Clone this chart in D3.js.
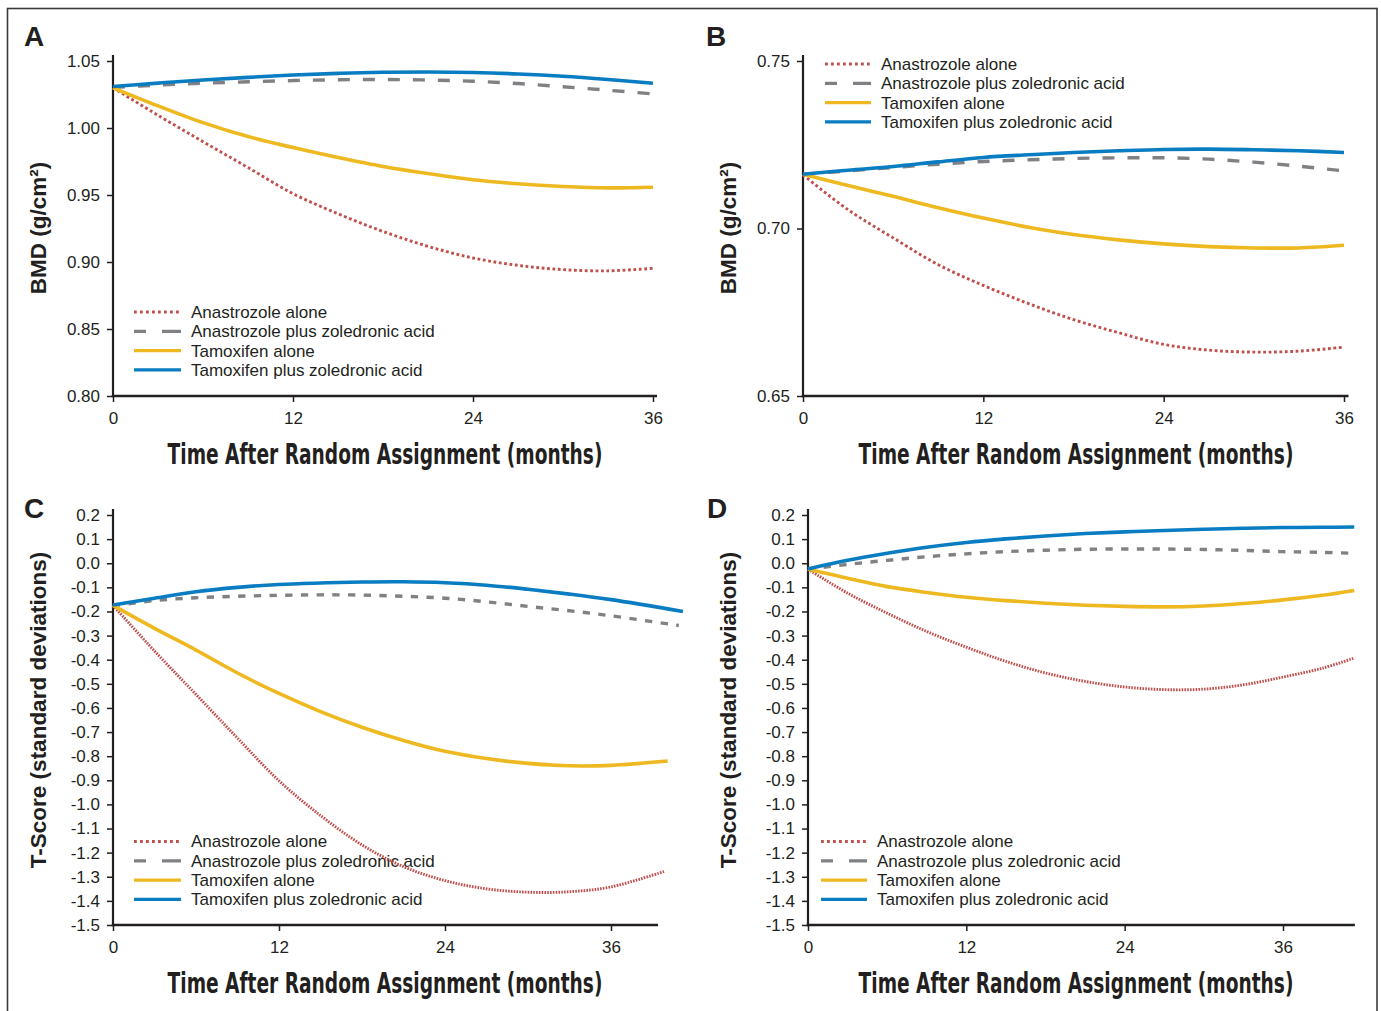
<!DOCTYPE html>
<html>
<head>
<meta charset="utf-8">
<script src="https://cdn.jsdelivr.net/npm/d3@7"></script>
<style>
  body { margin: 0; background: #fff; }
  text { fill: #231f20; }
</style>
</head>
<body>
<svg id="chart" width="1381" height="1011"></svg>
<script>
// series shown in every panel (legend order)
let seriesNames = ["Anastrozole alone", "Anastrozole plus zoledronic acid", "Tamoxifen alone", "Tamoxifen plus zoledronic acid"];
let seriesColors = ["#c0504d", "#808184", "#eeb920", "#0a7cc2"];

// x values (months)
let monthsAB = [0, 3, 6, 9, 12, 15, 18, 21, 24, 27, 30, 33, 36];
let monthsC = [0, 3, 6, 9, 12, 15, 18, 21, 24, 27, 30, 33, 36];
let endMonthsC = [39.9, 40.9, 40.1, 41.2];
let monthsD = [0, 3, 6, 9, 12, 15, 18, 21, 24, 27, 30, 33, 36, 39, 41.4];

// tick labels
let xTicks = [0, 12, 24, 36];
let yTicksA = [0.80, 0.85, 0.90, 0.95, 1.00, 1.05];
let yTicksB = [0.65, 0.70, 0.75];
let yTicksCD = [0.2, 0.1, 0.0, -0.1, -0.2, -0.3, -0.4, -0.5, -0.6, -0.7, -0.8, -0.9, -1.0, -1.1, -1.2, -1.3, -1.4, -1.5];

// A: BMD, lumbar spine
let bmdA_anaAlone = [1.030, 1.0095, 0.9898, 0.9705, 0.9510, 0.9360, 0.9228, 0.9117, 0.9030, 0.8975, 0.8943, 0.8934, 0.8953];
let bmdA_anaZol   = [1.0304, 1.0320, 1.0334, 1.0345, 1.0354, 1.0360, 1.0362, 1.0358, 1.0349, 1.0332, 1.0308, 1.0282, 1.0254];
let bmdA_tamAlone = [1.030, 1.0165, 1.0040, 0.9936, 0.9854, 0.9780, 0.9713, 0.9660, 0.9614, 0.9584, 0.9564, 0.9553, 0.9558];
let bmdA_tamZol   = [1.031, 1.0335, 1.0358, 1.0378, 1.0395, 1.0408, 1.0416, 1.0418, 1.0414, 1.0403, 1.0386, 1.0362, 1.0334];

// B: BMD, hip
let bmdB_anaAlone = [0.7160, 0.7056, 0.6972, 0.6892, 0.6830, 0.6776, 0.6728, 0.6689, 0.6654, 0.6637, 0.6631, 0.6634, 0.6646];
let bmdB_anaZol   = [0.7162, 0.7172, 0.7182, 0.7192, 0.7200, 0.7205, 0.7209, 0.7211, 0.7211, 0.7207, 0.7198, 0.7186, 0.7172];
let bmdB_tamAlone = [0.7162, 0.7128, 0.7096, 0.7062, 0.7031, 0.7004, 0.6982, 0.6966, 0.6954, 0.6946, 0.6942, 0.6942, 0.6950];
let bmdB_tamZol   = [0.7162, 0.7174, 0.7185, 0.7199, 0.7212, 0.7220, 0.7227, 0.7232, 0.7236, 0.7237, 0.7235, 0.7232, 0.7227];

// C: T-score, lumbar spine (last value is at endMonthsC)
let tC_anaAlone = [-0.175, -0.364, -0.544, -0.725, -0.902, -1.046, -1.168, -1.258, -1.316, -1.350, -1.364, -1.362, -1.342, -1.277];
let tC_anaZol   = [-0.177, -0.155, -0.143, -0.137, -0.133, -0.131, -0.132, -0.137, -0.145, -0.160, -0.179, -0.197, -0.218, -0.258];
let tC_tamAlone = [-0.175, -0.270, -0.360, -0.455, -0.540, -0.615, -0.680, -0.735, -0.780, -0.810, -0.830, -0.840, -0.838, -0.820];
let tC_tamZol   = [-0.173, -0.145, -0.118, -0.100, -0.088, -0.082, -0.078, -0.077, -0.081, -0.091, -0.108, -0.128, -0.151, -0.200];

// D: T-score, hip
let tD_anaAlone = [-0.025, -0.124, -0.207, -0.283, -0.348, -0.407, -0.455, -0.490, -0.513, -0.524, -0.522, -0.504, -0.472, -0.435, -0.393];
let tD_anaZol   = [-0.024, -0.005, 0.012, 0.027, 0.039, 0.048, 0.054, 0.058, 0.059, 0.059, 0.057, 0.053, 0.048, 0.045, 0.041];
let tD_tamAlone = [-0.025, -0.062, -0.097, -0.121, -0.141, -0.155, -0.166, -0.174, -0.179, -0.181, -0.177, -0.167, -0.152, -0.133, -0.113];
let tD_tamZol   = [-0.0235, 0.012, 0.041, 0.066, 0.086, 0.101, 0.113, 0.123, 0.130, 0.136, 0.141, 0.145, 0.148, 0.149, 0.150];

let svg = d3.select("#chart");

// outer frame
svg.append("rect")
  .attr("x", 7.5).attr("y", 8.5)
  .attr("width", 1369.5).attr("height", 1012)
  .attr("fill", "none")
  .attr("stroke", "#3a3a3a")
  .attr("stroke-width", 1.6);

let panels = [
  { letter: "A", lx: 24, ly: 46,
    series: [bmdA_anaAlone, bmdA_anaZol, bmdA_tamAlone, bmdA_tamZol],
    months: [monthsAB, monthsAB, monthsAB, monthsAB],
    xr: [113, 653], axisEnd: 36.27, yd: [0.80, 1.05], yr: [396, 61],
    yTicks: yTicksA, fmt: ".2f", yTitle: "BMD (g/cm\u00b2)", yTitleX: 46, yTitleY: 228,
    xTitleX: 385, xTitleY: 464,
    legend: { x0: 134, x1: 181, tx: 191, y0: 312 },
    dash: "12,13", dot: "2.8,2.6" },
  { letter: "B", lx: 706, ly: 46,
    series: [bmdB_anaAlone, bmdB_anaZol, bmdB_tamAlone, bmdB_tamZol],
    months: [monthsAB, monthsAB, monthsAB, monthsAB],
    xr: [803, 1344], axisEnd: 36.3, yd: [0.65, 0.75], yr: [396, 61],
    yTicks: yTicksB, fmt: ".2f", yTitle: "BMD (g/cm\u00b2)", yTitleX: 736, yTitleY: 228,
    xTitleX: 1076, xTitleY: 464,
    legend: { x0: 825, x1: 871, tx: 881, y0: 64 },
    dash: "12,13", dot: "2.8,2.6" },
  { letter: "C", lx: 24, ly: 518,
    series: [tC_anaAlone, tC_anaZol, tC_tamAlone, tC_tamZol],
    months: endMonthsC.map(e => monthsC.concat([e])),
    xr: [113, 611], axisEnd: 39.4, yd: [-1.5, 0.2], yr: [925, 515],
    yTicks: yTicksCD, fmt: ".1f", yTitle: "T-Score (standard deviations)", yTitleX: 46, yTitleY: 710,
    xTitleX: 385, xTitleY: 993,
    legend: { x0: 134, x1: 181, tx: 191, y0: 841.5 },
    dash: "7.3,8.4", dot: "1.6,1.2" },
  { letter: "D", lx: 707, ly: 518,
    series: [tD_anaAlone, tD_anaZol, tD_tamAlone, tD_tamZol],
    months: [monthsD, monthsD, monthsD, monthsD],
    xr: [808, 1283], axisEnd: 41.45, yd: [-1.5, 0.2], yr: [925, 515],
    yTicks: yTicksCD, fmt: ".1f", yTitle: "T-Score (standard deviations)", yTitleX: 736, yTitleY: 710,
    xTitleX: 1076, xTitleY: 993,
    legend: { x0: 821, x1: 867, tx: 877, y0: 841.5 },
    dash: "7.3,8.4", dot: "1.6,1.2" }
];

let axisColor = "#231f20";

panels.forEach(function(p) {
  let g = svg.append("g");

  let x = d3.scaleLinear().domain([0, 36]).range(p.xr);
  let y = d3.scaleLinear().domain(p.yd).range(p.yr);

  // panel letter
  g.append("text")
    .attr("x", p.lx).attr("y", p.ly)
    .style("font-family", "'Liberation Sans', Arial, sans-serif")
    .style("font-weight", "bold")
    .style("font-size", "28px")
    .text(p.letter);

  // legend (drawn under the lines)
  let legendDashes = ["2.8,3.2", "12,16,19", null, null];
  let leg = g.append("g");
  seriesNames.forEach(function(name, i) {
    let ly = p.legend.y0 + i * 19.3;
    leg.append("line")
      .attr("x1", p.legend.x0).attr("x2", p.legend.x1)
      .attr("y1", ly).attr("y2", ly)
      .attr("stroke", seriesColors[i])
      .attr("stroke-width", i == 0 ? 2.8 : 3.2)
      .attr("stroke-dasharray", legendDashes[i]);
    leg.append("text")
      .attr("x", p.legend.tx).attr("y", ly)
      .attr("dy", "0.35em")
      .style("font-family", "'Liberation Sans', Arial, sans-serif")
      .style("font-size", "17px")
      .text(name);
  });

  // x axis
  let xAxis = d3.axisBottom(x)
    .tickValues(xTicks)
    .tickSize(6)
    .tickSizeOuter(0)
    .tickPadding(10);
  let xg = g.append("g")
    .attr("transform", "translate(0," + y(p.yd[0]) + ")")
    .call(xAxis);
  xg.select(".domain").remove();
  xg.selectAll("line").attr("stroke", axisColor).attr("stroke-width", 1.5);
  xg.selectAll("text")
    .style("font-family", "'Liberation Sans', Arial, sans-serif")
    .style("font-size", "17px")
    .attr("fill", axisColor);

  // y axis
  let f = d3.format(p.fmt);
  let yAxis = d3.axisLeft(y)
    .tickValues(p.yTicks)
    .tickSize(6)
    .tickSizeOuter(0)
    .tickPadding(7)
    .tickFormat(d => f(d).replace("\u2212", "-"));
  let yg = g.append("g")
    .attr("transform", "translate(" + x(0) + ",0)")
    .call(yAxis);
  yg.select(".domain").remove();
  yg.selectAll("line").attr("stroke", axisColor).attr("stroke-width", 1.5);
  yg.selectAll("text")
    .style("font-family", "'Liberation Sans', Arial, sans-serif")
    .style("font-size", "17px")
    .attr("fill", axisColor);

  // axis lines
  g.append("line")
    .attr("x1", x(0) - 1.2).attr("x2", x(p.axisEnd))
    .attr("y1", y(p.yd[0])).attr("y2", y(p.yd[0]))
    .attr("stroke", axisColor).attr("stroke-width", 2.6);
  g.append("line")
    .attr("x1", x(0)).attr("x2", x(0))
    .attr("y1", y(p.yd[0])).attr("y2", y(p.yd[1]) - 6)
    .attr("stroke", axisColor).attr("stroke-width", 2.2);

  // y title
  g.append("text")
    .attr("transform", "translate(" + p.yTitleX + "," + p.yTitleY + ") rotate(-90)")
    .style("text-anchor", "middle")
    .style("font-family", "'Liberation Sans', Arial, sans-serif")
    .style("font-weight", "bold")
    .style("font-size", "22.5px")
    .text(p.yTitle);

  // x title: condensed bold, squeezed to the reference width
  let xt = g.append("text")
    .style("text-anchor", "middle")
    .style("font-family", "'Liberation Sans Narrow', 'DejaVu Sans Condensed', sans-serif")
    .style("font-weight", "bold")
    .style("font-size", "29px")
    .text("Time After Random Assignment (months)");
  let sx = 435 / xt.node().getComputedTextLength();
  xt.attr("transform", "translate(" + p.xTitleX + "," + p.xTitleY + ") scale(" + sx + ",1)");

  // lines
  let line = d3.line()
    .x(d => x(d[0]))
    .y(d => y(d[1]))
    .curve(d3.curveCatmullRom.alpha(0.5));

  let dashes = [p.dot, p.dash, null, null];
  let widths = [2.9, 3.4, 3.6, 3.6];
  p.series.forEach(function(vals, i) {
    let pts = vals.map((v, j) => [p.months[i][j], v]);
    g.append("path")
      .datum(pts)
      .attr("d", line)
      .attr("fill", "none")
      .attr("stroke", seriesColors[i])
      .attr("stroke-width", widths[i])
      .attr("stroke-dasharray", dashes[i]);
  });
});
</script>
</body>
</html>
